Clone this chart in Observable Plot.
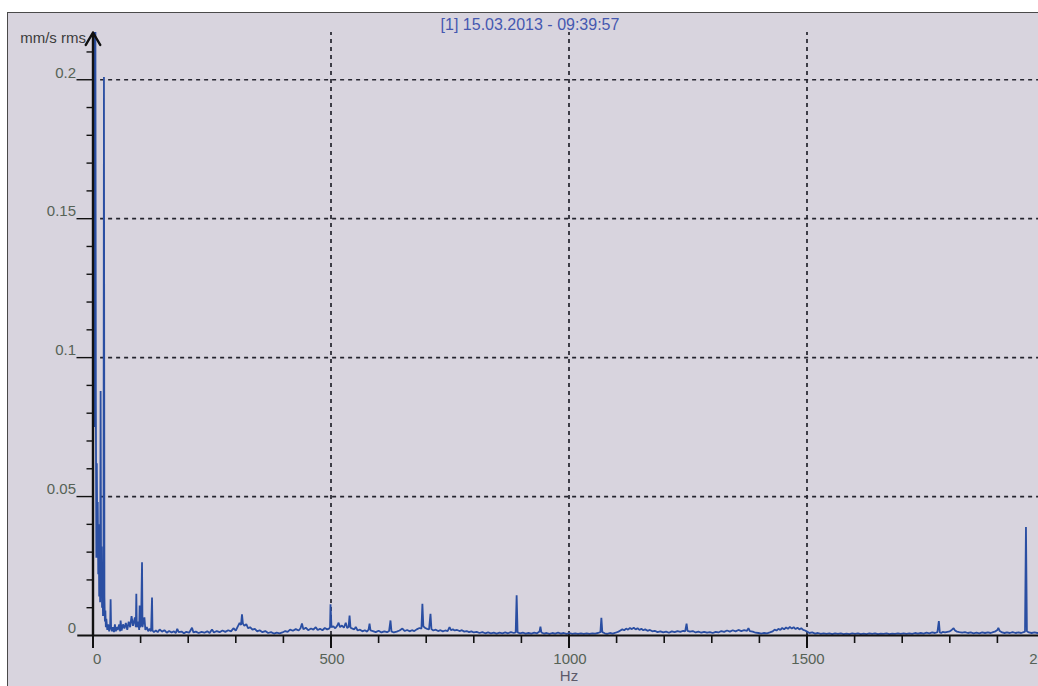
<!DOCTYPE html>
<html><head><meta charset="utf-8">
<script src="https://cdn.jsdelivr.net/npm/d3@7"></script>
<script src="https://cdn.jsdelivr.net/npm/@observablehq/plot@0.6"></script>
<style>
html,body{margin:0;padding:0;background:#fff;overflow:hidden}
#wrap{position:relative;width:1038px;height:686px;overflow:hidden;background:#fff}
#panel{position:absolute;left:7px;top:12px;width:1100px;height:720px;background:#d8d4de;border-left:1.5px solid #4a4a4a;border-top:1.5px solid #4a4a4a}
#chart{position:absolute;left:0;top:0;width:1060px;height:686px}
</style></head><body>
<div id="wrap"><div id="panel"></div><div id="chart"></div></div>
<script>
const titleText = "[1] 15.03.2013 - 09:39:57";
const yUnit = "mm/s rms";
const xUnit = "Hz";
const yMajor = [0, 0.05, 0.1, 0.15, 0.2];
const yMajorLabels = ["0", "0.05", "0.1", "0.15", "0.2"];
const yMinor = [0.01,0.02,0.03,0.04,0.06,0.07,0.08,0.09,0.11,0.12,0.13,0.14,0.16,0.17,0.18,0.19,0.21];
const xMajor = [0, 500, 1000, 1500, 2000];
const xMajorLabels = ["0", "500", "1000", "1500", "2000"];
const xMinor = [100,200,300,400,600,700,800,900,1100,1200,1300,1400,1600,1700,1800,1900];
const xGrid = [500, 1000, 1500];
const yGrid = [0.05, 0.1, 0.15, 0.2];

// spectrum [Hz, mm/s rms]
const band0to130 = [[0,0.06],[1,0.23],[2,0.10],[3,0.23],[4,0.075],[5,0.23],[6,0.083],[7,0.028],[8,0.062],[9,0.035],[10,0.048],[11,0.022],[12,0.04],[13,0.014],[14,0.03],[15,0.012],[16,0.088],[17,0.018],[18,0.032],[19,0.01],[20,0.022],[21,0.007],[22,0.012],[23,0.201],[24,0.014],[25,0.005],[26,0.009],[27,0.003],[28,0.006],[30,0.002],[32,0.004],[34,0.0015],[36,0.003],[37,0.013],[38,0.003],[40,0.0015],[42,0.003],[44,0.0012],[46,0.004],[48,0.0015],[50,0.003],[52,0.002],[55,0.004],[57,0.0015],[58,0.0054],[60,0.0018],[63,0.004],[66,0.0025],[69,0.0045],[72,0.002],[75,0.005],[78,0.003],[81,0.007],[84,0.0035],[88,0.0065],[90,0.003],[91,0.015],[92,0.003],[95,0.005],[97,0.002],[98,0.0108],[99,0.003],[101,0.004],[103,0.0264],[104,0.003],[106,0.005],[108,0.0065],[110,0.002],[113,0.003],[116,0.0015],[119,0.0025],[122,0.0015],[124,0.0137],[125,0.0018],[128,0.0012]];
const band130to500 = [[132,0.0018],[136,0.0012],[140,0.0022],[145,0.0014],[150,0.0019],[155,0.001],[160,0.0016],[165,0.0011],[170,0.0015],[174,0.0009],[177,0.0024],[180,0.0012],[186,0.0014],[191,0.0008],[196,0.0013],[202,0.001],[208,0.0028],[211,0.0011],[216,0.0014],[222,0.0009],[228,0.0013],[234,0.001],[240,0.0015],[245,0.0009],[250,0.0022],[254,0.0011],[260,0.0016],[266,0.0012],[272,0.0018],[278,0.0013],[284,0.0019],[290,0.0015],[295,0.0026],[300,0.0018],[304,0.0032],[308,0.0045],[311,0.0038],[313,0.0076],[315,0.0042],[318,0.0035],[322,0.0041],[326,0.0026],[330,0.003],[335,0.0021],[340,0.0024],[345,0.0015],[350,0.0019],[356,0.0012],[362,0.0016],[368,0.0009],[374,0.0012],[380,0.0007],[386,0.001],[392,0.0008],[398,0.0011],[404,0.0016],[409,0.0013],[414,0.0021],[420,0.0017],[426,0.0023],[432,0.0018],[436,0.0026],[439,0.0043],[442,0.0022],[447,0.0028],[452,0.0019],[458,0.0025],[463,0.0021],[468,0.003],[472,0.002],[477,0.0024],[482,0.0019],[487,0.0027],[492,0.0022],[496,0.0025],[498,0.003]];
const band500to700 = [[499,0.0112],[501,0.003],[505,0.0033],[509,0.0026],[513,0.0035],[516,0.0046],[519,0.003],[523,0.0036],[527,0.0028],[531,0.0046],[534,0.0027],[537,0.0031],[539,0.0072],[541,0.0028],[545,0.0025],[549,0.0022],[552,0.0031],[556,0.0018],[561,0.0021],[566,0.0015],[571,0.0019],[576,0.0014],[579,0.0022],[581,0.0043],[583,0.0018],[588,0.0016],[594,0.0012],[600,0.0017],[606,0.0011],[612,0.0015],[618,0.0012],[622,0.0016],[625,0.0054],[627,0.0015],[632,0.0011],[638,0.0014],[644,0.0018],[650,0.0025],[655,0.0016],[660,0.002],[665,0.0015],[670,0.0019],[675,0.0016],[680,0.0022],[686,0.0027],[690,0.0025],[692,0.0114],[694,0.0033],[698,0.0027],[702,0.0024],[706,0.0022]];
const band700to1100 = [[709,0.0078],[711,0.0023],[715,0.0018],[720,0.0021],[725,0.0016],[730,0.0019],[735,0.0015],[740,0.0018],[745,0.0016],[749,0.003],[752,0.0019],[756,0.0022],[760,0.0018],[765,0.002],[770,0.0016],[775,0.0019],[780,0.0014],[785,0.0016],[790,0.0012],[795,0.0015],[800,0.0011],[806,0.0013],[812,0.0009],[818,0.0012],[824,0.0008],[830,0.0011],[836,0.0008],[842,0.001],[848,0.0007],[854,0.001],[860,0.0008],[866,0.0011],[872,0.0008],[878,0.0012],[884,0.0009],[888,0.0011],[890,0.0145],[892,0.0011],[897,0.0008],[903,0.001],[909,0.0007],[915,0.0009],[921,0.0007],[927,0.001],[933,0.0008],[938,0.0014],[940,0.0032],[942,0.0011],[947,0.0007],[953,0.0009],[959,0.0006],[965,0.0009],[971,0.0007],[977,0.001],[983,0.0007],[989,0.0009],[995,0.0006],[1001,0.0009],[1007,0.0006],[1013,0.0008],[1019,0.0006],[1025,0.0008],[1031,0.0006],[1037,0.0008],[1043,0.0006],[1049,0.0008],[1055,0.0007],[1061,0.0009],[1066,0.0012],[1068,0.0064],[1070,0.0012],[1075,0.0008],[1080,0.0006],[1086,0.0009],[1092,0.0007],[1098,0.001]];
const band1100to1500 = [[1104,0.0014],[1108,0.0018],[1112,0.0022],[1116,0.0019],[1120,0.0025],[1124,0.0021],[1128,0.0027],[1132,0.0023],[1136,0.0028],[1140,0.0022],[1144,0.0026],[1148,0.002],[1152,0.0024],[1156,0.0019],[1160,0.0022],[1165,0.0017],[1170,0.002],[1175,0.0015],[1180,0.0017],[1186,0.0012],[1192,0.0015],[1198,0.0011],[1204,0.0014],[1210,0.001],[1216,0.0015],[1222,0.0012],[1228,0.0016],[1234,0.0013],[1240,0.0017],[1244,0.0015],[1247,0.0043],[1249,0.0017],[1254,0.0014],[1260,0.0016],[1266,0.0011],[1272,0.0014],[1278,0.001],[1284,0.0013],[1290,0.001],[1296,0.0012],[1302,0.0009],[1308,0.0013],[1314,0.0011],[1320,0.0016],[1326,0.0013],[1332,0.0018],[1338,0.0014],[1344,0.0019],[1350,0.0015],[1356,0.002],[1362,0.0016],[1368,0.0019],[1374,0.0017],[1377,0.0026],[1380,0.0016],[1386,0.0014],[1392,0.001],[1398,0.0009],[1404,0.0007],[1410,0.0009],[1416,0.0008],[1422,0.0011],[1428,0.0015],[1432,0.0021],[1436,0.0018],[1440,0.0024],[1444,0.002],[1448,0.0027],[1452,0.0022],[1456,0.0029],[1460,0.0024],[1464,0.0031],[1468,0.0025],[1472,0.003],[1476,0.0023],[1480,0.0028],[1484,0.0022],[1488,0.0026],[1492,0.002],[1496,0.0018]];
const band1500to2000 = [[1500,0.0014],[1505,0.0009],[1511,0.0011],[1517,0.0007],[1523,0.0009],[1529,0.0006],[1535,0.0008],[1541,0.0006],[1547,0.0008],[1553,0.0005],[1559,0.0008],[1565,0.0006],[1571,0.0008],[1577,0.0005],[1583,0.0007],[1589,0.0005],[1595,0.0008],[1601,0.0006],[1607,0.0008],[1613,0.0005],[1619,0.0007],[1625,0.0005],[1631,0.0008],[1637,0.0006],[1643,0.0008],[1649,0.0005],[1655,0.0007],[1661,0.0006],[1667,0.0008],[1673,0.0005],[1679,0.0007],[1685,0.0006],[1691,0.0008],[1697,0.0006],[1703,0.0008],[1709,0.0006],[1715,0.0008],[1721,0.0006],[1727,0.0009],[1733,0.0007],[1739,0.0009],[1745,0.0007],[1751,0.001],[1757,0.0008],[1763,0.0011],[1769,0.0009],[1774,0.0012],[1777,0.0052],[1779,0.0011],[1782,0.0009],[1785,0.0013],[1790,0.0011],[1795,0.0013],[1800,0.0015],[1804,0.002],[1808,0.0026],[1811,0.0018],[1815,0.0014],[1820,0.0012],[1826,0.001],[1832,0.0012],[1838,0.0009],[1844,0.0011],[1850,0.0008],[1856,0.001],[1862,0.0008],[1868,0.0011],[1874,0.0009],[1880,0.0011],[1886,0.0009],[1891,0.0012],[1896,0.0015],[1900,0.002],[1902,0.0027],[1905,0.0016],[1910,0.0011],[1915,0.0009],[1920,0.0011],[1926,0.0009],[1932,0.0012],[1938,0.0009],[1944,0.0011],[1950,0.0009],[1955,0.0012],[1958,0.0014],[1960,0.039],[1962,0.0015],[1966,0.0011],[1972,0.0009],[1978,0.0011],[1984,0.0009],[1990,0.001],[1996,0.0008],[2000,0.0009]];

const spectrum = [...band0to130, ...band130to500, ...band500to700, ...band700to1100, ...band1100to1500, ...band1500to2000].map(([f, a]) => ({f, a}));

const font = "'Liberation Sans', Arial, sans-serif";
const labelColor = "#566256";
const gridColor = "#24242e";
const axisColor = "#111111";

const chart = Plot.plot({
  width: 1060,
  height: 686,
  marginLeft: 92.5,
  marginRight: 15.5,
  marginTop: 32,
  marginBottom: 51,
  style: {background: "transparent", maxWidth: "none", overflow: "visible", fontFamily: font},
  x: {domain: [0, 2000]},
  y: {domain: [0, 0.217]},
  marks: [
    Plot.ruleY(yGrid, {y: d => d, x1: 16, x2: 2000, stroke: gridColor, strokeWidth: 1.7, strokeDasharray: "4,4"}),
    Plot.ruleX(xGrid, {x: d => d, y1: 0, y2: 0.217, stroke: gridColor, strokeWidth: 1.7, strokeDasharray: "4,4"}),
    Plot.line(spectrum, {x: "f", y: "a", stroke: "#2a4ea2", strokeWidth: 1.8, strokeLinejoin: "miter", clip: true}),
    Plot.axisY({ticks: yMinor, tickSize: 6, fill: "none", stroke: axisColor, strokeWidth: 1.4, label: null}),
    Plot.axisY({ticks: yGrid, tickSize: 16, fill: "none", stroke: axisColor, strokeWidth: 1.4, label: null}),
    Plot.axisX({ticks: xMinor, tickSize: 8, fill: "none", stroke: axisColor, strokeWidth: 1.6, label: null}),
    Plot.axisX({ticks: xMajor, tickSize: 13, fill: "none", stroke: axisColor, strokeWidth: 2, label: null}),
    Plot.ruleY([0], {y: d => d, x1: -32, x2: 2000, stroke: axisColor, strokeWidth: 2}),
    Plot.arrow([{x1: 0, y1: 0, x2: 0, y2: 0.217}], {x1: "x1", y1: "y1", x2: "x2", y2: "y2", stroke: axisColor, strokeWidth: 2.4, headLength: 9}),
    Plot.text(yMajor, {x: 0, y: d => d, text: (d, i) => yMajorLabels[i], dx: -17, dy: -7, textAnchor: "end", fill: labelColor, fontSize: 15}),
    Plot.text(xMajor.slice(0, 1), {x: d => d, y: 0, text: () => xMajorLabels[0], dy: 24, textAnchor: "start", fill: labelColor, fontSize: 15}),
    Plot.text(xMajor.slice(1), {x: d => d, y: 0, text: (d, i) => xMajorLabels[i + 1], dx: 1, dy: 24, textAnchor: "middle", fill: labelColor, fontSize: 15}),
    Plot.text([titleText], {text: d => d, frameAnchor: "top", lineAnchor: "middle", dx: -39, dy: -8, fill: "#4558b0", fontSize: 16}),
    Plot.text([yUnit], {text: d => d, frameAnchor: "top-left", lineAnchor: "middle", dx: -7, dy: 5.5, textAnchor: "end", fill: "#3c3c3c", fontSize: 15}),
    Plot.text([xUnit], {text: d => d, frameAnchor: "bottom", lineAnchor: "middle", dy: 41, fill: "#5d5a6a", fontSize: 15})
  ]
});
document.getElementById("chart").appendChild(chart);
</script>
</body></html>
